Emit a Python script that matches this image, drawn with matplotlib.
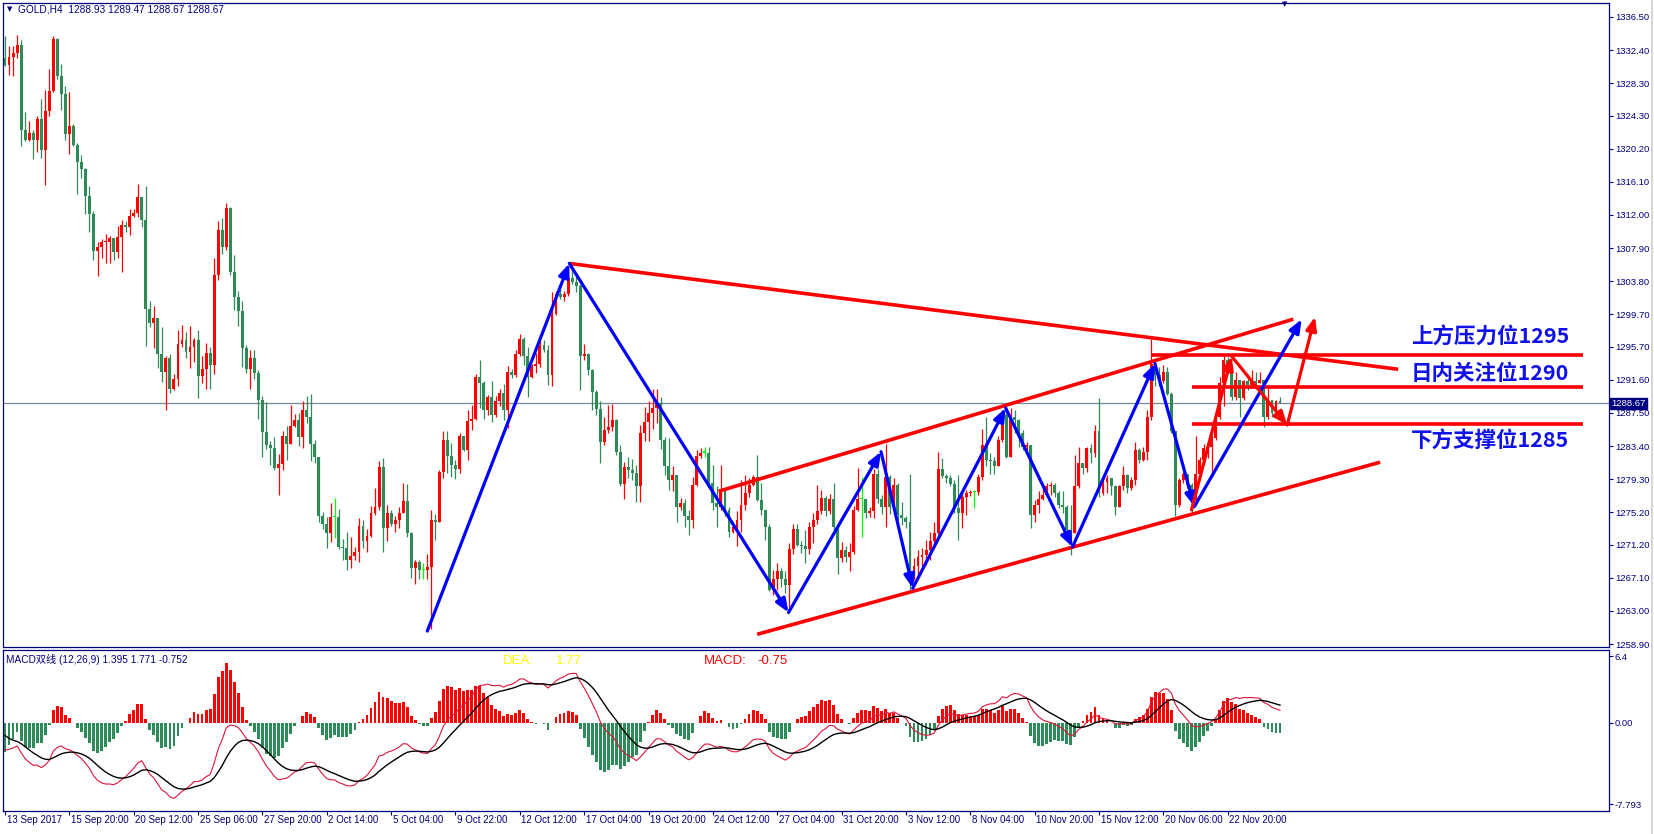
import numpy as np
import matplotlib
matplotlib.use("Agg")
import matplotlib.pyplot as plt
import matplotlib.transforms as mtransforms
from matplotlib.lines import Line2D

plt.rcParams['font.family'] = ['Liberation Sans', 'Noto Sans CJK SC', 'DejaVu Sans']

# ---- GOLD H4 candles (close / high / low), open = previous close ----
OPEN0 = 1331.4
closes = [
    1330.6, 1331.5, 1332.0, 1333.0, 1322.5, 1321.3, 1322.1, 1321.3, 1323.9, 1320.0,
    1324.9, 1327.3, 1333.8, 1329.2, 1327.0, 1322.0, 1323.0, 1320.7, 1318.6, 1317.7,
    1314.3, 1312.1, 1307.5, 1308.0, 1308.6, 1308.7, 1309.1, 1307.4, 1309.3, 1310.8,
    1310.5, 1311.9, 1312.3, 1314.2, 1311.4, 1300.3, 1298.6, 1299.2, 1294.8, 1292.6,
    1294.3, 1290.4, 1291.7, 1296.0, 1296.5, 1295.0, 1295.7, 1296.5, 1292.1, 1292.9,
    1294.9, 1293.4, 1304.6, 1310.1, 1308.0, 1312.9, 1304.9, 1301.8, 1300.1, 1295.5,
    1292.9, 1294.3, 1292.5, 1289.1, 1285.1, 1283.5, 1283.2, 1280.7, 1281.2, 1284.6,
    1283.7, 1285.9, 1286.6, 1284.5, 1287.8, 1287.0, 1283.7, 1282.0, 1274.7, 1273.7,
    1272.6, 1274.6,
    1274.6, 1270.9, 1270.8, 1269.3, 1269.8, 1270.3, 1273.5, 1271.7, 1272.3, 1275.1,
    1275.9, 1280.8, 1273.3, 1275.1, 1273.8, 1274.2, 1275.1, 1276.6, 1272.6, 1268.3,
    1269.0, 1268.1, 1268.1, 1268.4, 1274.2, 1274.0, 1280.2, 1284.1, 1282.2, 1281.1,
    1280.6, 1284.6, 1282.9, 1286.5, 1286.7, 1292.0, 1291.2, 1287.9, 1289.5, 1287.2,
    1289.0, 1290.0, 1287.9, 1292.6, 1292.2, 1294.8, 1296.7, 1294.6, 1291.9, 1293.3,
    1293.6, 1295.9, 1295.3, 1292.2, 1299.8, 1302.2, 1301.9, 1302.2, 1304.2, 1303.7,
    1303.2, 1294.5, 1294.8, 1292.8, 1290.1, 1288.0, 1283.9, 1285.4, 1285.8, 1286.6,
    1282.7, 1278.7, 1280.8, 1280.4, 1280.1, 1278.4, 1285.0, 1286.4, 1287.5, 1288.1,
    1288.7, 1284.2, 1280.9,
    1279.2, 1279.8, 1275.9, 1276.4, 1274.7, 1274.2, 1278.6, 1282.2, 1282.6, 1282.6,
    1278.8, 1276.3, 1275.9, 1277.8, 1275.5, 1272.8, 1273.4, 1274.2, 1276.1, 1277.6,
    1278.6, 1279.6, 1276.7, 1275.5, 1273.4, 1265.6, 1266.9, 1267.9, 1267.0, 1266.2,
    1270.7, 1273.1, 1271.2, 1271.0, 1270.7, 1273.4, 1274.3, 1275.3, 1277.0, 1275.3,
    1276.9, 1273.4, 1269.5, 1270.5, 1269.7, 1270.3, 1275.5, 1276.8, 1276.8, 1275.1,
    1275.3, 1280.0, 1276.9, 1275.9, 1279.6, 1275.9, 1278.6, 1274.9, 1274.5, 1274.0,
    1267.4, 1268.5, 1269.7, 1269.9, 1270.5, 1271.6, 1272.7, 1280.6, 1279.7, 1279.4,
    1278.7, 1275.7, 1275.1, 1277.1, 1277.6, 1277.7, 1277.7, 1279.6, 1283.5, 1281.7,
    1281.5,
    1280.9, 1284.2, 1287.3, 1282.1, 1287.0, 1286.6, 1285.0, 1283.3, 1283.5, 1274.9,
    1276.1, 1276.9, 1277.3, 1278.4, 1278.6, 1277.6, 1276.1, 1275.9, 1273.0, 1272.6,
    1278.4, 1281.3, 1280.7, 1283.1, 1282.5, 1285.2, 1277.6, 1279.0, 1279.4, 1278.4,
    1275.9, 1278.4, 1279.8, 1278.2, 1279.2, 1282.9, 1281.7, 1282.7, 1287.0, 1293.6,
    1292.2, 1291.4, 1292.6, 1289.9, 1285.2, 1276.1, 1279.2, 1280.0, 1278.6, 1276.7,
    1280.0, 1281.7, 1283.1, 1283.3, 1284.4, 1287.0, 1291.2, 1294.1, 1293.2, 1289.5,
    1291.6, 1289.3, 1291.4, 1291.0, 1291.4, 1291.2, 1291.6, 1287.0, 1289.1, 1287.5,
    1288.93, 1288.67,
]
highs = [
    1334.2, 1332.9, 1332.9, 1334.3, 1333.6, 1324.7, 1323.6, 1322.5, 1324.3, 1326.3,
    1327.5, 1330.1, 1334.2, 1333.9, 1330.7, 1328.0, 1327.2, 1323.2, 1320.9, 1319.4,
    1317.8, 1315.6, 1312.5, 1308.6, 1309.0, 1309.6, 1309.4, 1309.2, 1310.6, 1311.4,
    1311.2, 1312.7, 1312.7, 1315.8, 1314.2, 1315.6, 1301.4, 1300.7, 1299.2, 1298.1,
    1294.6, 1294.8, 1292.3, 1297.8, 1298.4, 1297.5, 1298.2, 1296.8, 1297.8, 1294.5,
    1296.2, 1295.7, 1306.7, 1311.2, 1311.6, 1313.5, 1313.0, 1307.0, 1302.6, 1301.4,
    1295.9, 1295.3, 1295.3, 1292.8, 1289.6, 1288.9, 1284.0, 1284.5, 1282.4, 1285.3,
    1285.9, 1288.5, 1287.4, 1287.5, 1289.0, 1289.6, 1289.9, 1284.2, 1282.0, 1275.2,
    1274.6, 1276.4,
    1277.0, 1275.6, 1271.9, 1272.8, 1272.2, 1270.9, 1274.5, 1274.2, 1273.1, 1276.0,
    1278.2, 1281.5, 1281.9, 1276.1, 1275.5, 1274.8, 1275.9, 1278.8, 1278.7, 1272.8,
    1269.3, 1269.3, 1268.9, 1270.1, 1275.5, 1275.0, 1280.4, 1285.2, 1285.2, 1283.8,
    1281.7, 1285.0, 1284.7, 1287.9, 1288.5, 1292.3, 1294.0, 1291.5, 1289.7, 1291.5,
    1289.6, 1290.4, 1291.1, 1293.3, 1292.9, 1295.3, 1297.3, 1296.9, 1295.7, 1293.6,
    1294.9, 1296.5, 1296.5, 1295.9, 1302.5, 1302.6, 1303.5, 1302.6, 1305.0, 1306.2,
    1304.5, 1303.5, 1296.0, 1294.9, 1292.9, 1290.3, 1289.0, 1287.0, 1288.5, 1288.6,
    1286.8, 1283.5, 1281.4, 1282.0, 1281.8, 1281.0, 1286.0, 1288.2, 1289.0, 1290.5,
    1290.5, 1289.5, 1284.5,
    1284.4, 1280.9, 1278.6, 1277.0, 1276.9, 1275.5, 1279.6, 1282.9, 1283.1, 1283.3,
    1283.3, 1281.1, 1278.4, 1281.1, 1278.0, 1275.9, 1274.0, 1275.3, 1279.2, 1279.8,
    1279.4, 1279.8, 1282.3, 1278.8, 1275.5, 1273.8, 1268.0, 1268.9, 1268.3, 1267.9,
    1271.4, 1273.8, 1273.8, 1271.6, 1273.0, 1274.0, 1275.1, 1278.6, 1278.0, 1277.2,
    1277.5, 1278.8, 1273.8, 1271.5, 1271.0, 1271.4, 1276.0, 1280.7, 1279.6, 1276.8,
    1275.8, 1280.5, 1280.5, 1277.3, 1283.7, 1279.8, 1279.4, 1278.8, 1276.5, 1274.7,
    1280.0, 1269.5, 1270.5, 1270.8, 1271.8, 1272.8, 1274.0, 1282.7, 1281.9, 1280.0,
    1279.8, 1279.2, 1279.8, 1277.8, 1278.0, 1278.0, 1278.0, 1280.0, 1285.5, 1287.0,
    1282.5,
    1282.1, 1284.6, 1287.9, 1287.5, 1288.1, 1287.9, 1286.8, 1285.4, 1283.9, 1283.5,
    1276.7, 1277.8, 1278.4, 1278.8, 1278.9, 1278.8, 1277.8, 1277.8, 1276.1, 1276.1,
    1282.3, 1283.3, 1281.3, 1283.3, 1283.7, 1286.0, 1289.3, 1279.4, 1279.8, 1279.2,
    1278.6, 1278.6, 1280.9, 1280.0, 1279.6, 1283.9, 1283.1, 1283.3, 1287.9, 1296.7,
    1294.1, 1293.2, 1293.4, 1293.2, 1290.1, 1285.2, 1279.4, 1280.2, 1280.0, 1278.8,
    1284.6, 1282.1, 1283.7, 1283.9, 1285.2, 1287.9, 1292.0, 1294.5, 1294.4, 1293.2,
    1292.6, 1291.6, 1291.6, 1292.0, 1292.8, 1292.6, 1292.6, 1291.4, 1290.8, 1289.1,
    1289.1, 1289.47,
]
lows = [
    1330.4, 1329.3, 1329.2, 1331.4, 1320.5, 1321.1, 1321.2, 1318.9, 1319.8, 1319.0,
    1315.7, 1324.3, 1327.2, 1328.8, 1325.0, 1321.3, 1319.6, 1320.5, 1314.6, 1316.6,
    1312.1, 1309.9, 1306.4, 1304.4, 1306.7, 1306.0, 1306.0, 1306.4, 1306.7, 1304.9,
    1309.9, 1309.5, 1311.8, 1311.8, 1310.5, 1295.8, 1298.1, 1295.5, 1293.0, 1291.3,
    1287.9, 1290.0, 1290.3, 1290.8, 1295.6, 1294.3, 1293.1, 1293.8, 1289.4, 1291.2,
    1290.5, 1290.4, 1292.3, 1304.0, 1307.2, 1307.6, 1304.6, 1300.2, 1298.2, 1293.2,
    1292.4, 1290.5, 1291.7, 1286.8, 1282.1, 1283.0, 1281.1, 1280.4, 1277.4, 1280.4,
    1281.7, 1283.6, 1285.8, 1283.4, 1283.2, 1286.3, 1281.5, 1281.3, 1274.0, 1273.1,
    1270.8, 1271.5,
    1272.0, 1270.7, 1269.3, 1268.1, 1268.3, 1269.3, 1269.0, 1270.8, 1270.3, 1272.2,
    1274.9, 1275.5, 1270.3, 1271.6, 1273.5, 1272.8, 1273.2, 1275.1, 1272.2, 1267.1,
    1266.3, 1267.0, 1266.9, 1267.0, 1260.8, 1271.8, 1274.0, 1279.4, 1280.1, 1279.6,
    1279.3, 1280.1, 1282.8, 1281.7, 1285.4, 1286.6, 1288.1, 1286.8, 1287.2, 1286.4,
    1287.0, 1288.3, 1286.6, 1285.6, 1291.8, 1292.0, 1294.5, 1293.4, 1289.5, 1291.8,
    1292.4, 1293.2, 1295.1, 1291.0, 1290.8, 1299.6, 1301.6, 1301.4, 1302.0, 1303.5,
    1302.5, 1290.3, 1294.0, 1292.2, 1287.9, 1287.2, 1281.3, 1283.5, 1285.0, 1285.3,
    1282.3, 1278.4, 1276.8, 1279.5, 1279.2, 1276.5, 1276.5, 1284.0, 1284.0, 1285.5,
    1286.3, 1283.0, 1279.8,
    1278.0, 1277.8, 1274.0, 1275.5, 1273.4, 1272.4, 1273.2, 1278.4, 1281.9, 1282.1,
    1278.4, 1275.5, 1273.4, 1275.5, 1274.7, 1272.2, 1272.6, 1271.0, 1272.8, 1275.5,
    1277.1, 1278.4, 1276.6, 1274.9, 1271.8, 1265.4, 1265.0, 1265.6, 1266.0, 1265.2,
    1263.5, 1270.0, 1271.0, 1270.2, 1268.9, 1270.0, 1271.4, 1273.8, 1275.0, 1274.8,
    1275.0, 1273.0, 1267.6, 1269.0, 1269.0, 1267.9, 1270.0, 1275.3, 1272.2, 1274.5,
    1274.6, 1274.5, 1276.3, 1275.0, 1273.4, 1275.0, 1275.5, 1274.3, 1273.6, 1273.3,
    1265.4, 1266.8, 1267.2, 1268.5, 1268.7, 1269.3, 1271.0, 1272.4, 1279.4, 1278.8,
    1278.4, 1275.1, 1271.8, 1273.2, 1274.9, 1277.2, 1275.7, 1277.3, 1279.2, 1280.9,
    1280.0,
    1280.0, 1280.9, 1283.9, 1281.9, 1282.0, 1285.0, 1283.3, 1282.9, 1282.9, 1273.2,
    1274.0, 1275.1, 1276.7, 1277.1, 1277.3, 1277.1, 1275.7, 1275.1, 1272.6, 1269.9,
    1272.6, 1278.2, 1280.0, 1280.2, 1281.3, 1282.1, 1277.1, 1277.3, 1277.6, 1277.4,
    1274.9, 1276.1, 1278.0, 1277.6, 1278.0, 1278.6, 1281.3, 1281.5, 1281.7, 1286.6,
    1290.8, 1290.8, 1291.2, 1289.7, 1285.0, 1274.7, 1275.9, 1278.8, 1278.2, 1275.0,
    1276.1, 1279.6, 1281.1, 1281.9, 1279.6, 1284.2, 1286.8, 1288.3, 1292.6, 1289.1,
    1289.1, 1287.0, 1289.1, 1290.3, 1290.8, 1290.5, 1291.2, 1285.8, 1286.8, 1287.0,
    1287.7, 1288.67,
]

# time axis labels, one every 16 bars
time_labels = ["13 Sep 2017", "15 Sep 20:00", "20 Sep 12:00", "25 Sep 06:00", "27 Sep 20:00",
               "2 Oct 14:00", "5 Oct 04:00", "9 Oct 22:00", "12 Oct 12:00", "17 Oct 04:00",
               "19 Oct 20:00", "24 Oct 12:00", "27 Oct 04:00", "31 Oct 20:00", "3 Nov 12:00",
               "8 Nov 04:00", "10 Nov 20:00", "15 Nov 12:00", "20 Nov 06:00", "22 Nov 20:00"]
price_ticks = [1336.50, 1332.40, 1328.30, 1324.30, 1320.20, 1316.10, 1312.00, 1307.90, 1303.80,
               1299.70, 1295.70, 1291.60, 1287.50, 1283.40, 1279.30, 1275.20, 1271.20, 1267.10,
               1263.00, 1258.90]
last_price = 1288.67

# MACD seed (value of the emas at the first bar)
EMA12_START, EMA26_START, DEA_START = 1333.0, 1335.6, -1.2

# drawn objects (bar index, price)
blue_x = [105.0, 140.3, 194.8, 217.8, 225.7, 248.8, 265.4, 285.9, 295.7, 322.4]
blue_y = [1260.5, 1306.0, 1262.8, 1282.7, 1265.8, 1288.1, 1270.9, 1293.6, 1275.9, 1299.1]
red_arrow_x = [295.0, 305.0, 318.8, 325.7]
red_arrow_y = [1275.5, 1294.5, 1286.0, 1299.4]
down_line = [(140.3, 1306.0), (346.4, 1292.9)]
chan_top = [(177.4, 1277.8), (320.3, 1299.1)]
chan_bot = [(187.0, 1260.1), (341.9, 1281.4)]
levels = [1294.7, 1290.7, 1286.1]
level_start = [285.1, 295.0, 295.0]
level_end = 392.4
level_texts = ["上方压力位1295", "日内关注位1290", "下方支撑位1285"]
level_text_y = [1296.9, 1292.4, 1284.0]

NAVY = '#000080'
UP = '#ff0000'
DOWN = '#2e8b57'
DOJI = '#00ff00'

W, H = 1654, 834
fig = plt.figure(figsize=(W / 100, H / 100), dpi=100)
fig.patch.set_facecolor('white')


def fx(px):
    return px / W


def fy(py):
    return 1 - py / H


ax = fig.add_axes([fx(3), fy(647), fx(1609) - fx(3), fy(3) - fy(647)])
am = fig.add_axes([fx(3), fy(811), fx(1609) - fx(3), fy(650) - fy(811)])

n = len(closes)
x = np.arange(n)
c = np.array(closes)
o = np.array([OPEN0] + closes[:-1])
hi = np.maximum(np.array(highs), np.maximum(o, c))
lo = np.minimum(np.array(lows), np.minimum(o, c))
cols = np.where(c > o, UP, np.where(c < o, DOWN, DOJI))

# candles
ax.vlines(x, lo, hi, colors=cols, lw=0.9, zorder=2)
body = np.maximum(np.abs(c - o), 0.13)
ax.bar(x, body, bottom=np.minimum(o, c), width=0.72, color=cols, linewidth=0, zorder=3)

ax.axhline(last_price, color='#778899', lw=0.9, zorder=1)

# trend lines and levels
for (x0, y0), (x1, y1) in [down_line, chan_top, chan_bot]:
    ax.plot([x0, x1], [y0, y1], color='#ff0000', lw=2.6, solid_capstyle='butt', zorder=5)
for lv, xs in zip(levels, level_start):
    ax.plot([xs, level_end], [lv, lv], color='#ff0000', lw=2.6, solid_capstyle='butt', zorder=5)

arrow_style = '-|>,head_length=0.8,head_width=0.32'
for i in range(len(blue_x) - 1):
    ax.annotate('', xy=(blue_x[i + 1], blue_y[i + 1]), xytext=(blue_x[i], blue_y[i]),
                arrowprops=dict(arrowstyle=arrow_style, color='#0000ff', lw=2.3,
                                shrinkA=0, shrinkB=0), zorder=6)
for i in range(len(red_arrow_x) - 1):
    ax.annotate('', xy=(red_arrow_x[i + 1], red_arrow_y[i + 1]), xytext=(red_arrow_x[i], red_arrow_y[i]),
                arrowprops=dict(arrowstyle=arrow_style, color='#ff0000', lw=2.3,
                                shrinkA=0, shrinkB=0), zorder=6)

for t, ty in zip(level_texts, level_text_y):
    ax.text(388.9, ty, t, ha='right', va='center', fontsize=15.5, color='#1010e8',
            fontweight='bold', family=['Noto Sans CJK SC', 'DejaVu Sans'], zorder=7)

ax.set_xlim(-0.5, 398.8)
ax.set_ylim(1258.53, 1338.23)

# MACD (DIF, DEA, 2*(DIF-DEA))
e12, e26, dea = EMA12_START, EMA26_START, DEA_START
dif_l, dea_l = [], []
for i, cl in enumerate(closes):
    if i > 0:
        e12 = e12 + (cl - e12) * 2 / 13
        e26 = e26 + (cl - e26) * 2 / 27
    d = e12 - e26
    if i > 0:
        dea = dea + (d - dea) * 2 / 10
    dif_l.append(d)
    dea_l.append(dea)
dif_a = np.array(dif_l)
dea_a = np.array(dea_l)
hist = 2 * (dif_a - dea_a)
am.bar(x, hist, width=0.7, color=np.where(hist >= 0, UP, DOWN), linewidth=0, zorder=2)
am.plot(x, dif_a, color='#dc143c', lw=0.8, zorder=3)
am.plot(x, dea_a, color='black', lw=1.0, zorder=4)
am.set_xlim(-0.5, 398.8)
am.set_ylim(-8.44, 7.0)

am.text(0.002, 0.94, "MACD双线 (12,26,9) 1.395 1.771 -0.752", transform=am.transAxes,
        ha='left', va='center', fontsize=7.3, color=NAVY)
btf = mtransforms.blended_transform_factory(am.transData, am.transAxes)
am.text(123.8, 0.93, "DEA:", transform=btf, fontsize=9.5, color='#ffff00', va='center')
am.text(137.0, 0.93, "1.77", transform=btf, fontsize=9.5, color='#ffff00', va='center')
am.text(173.7, 0.93, "MACD:", transform=btf, fontsize=9.5, color='#ff0000', va='center')
am.text(187.0, 0.93, "-0.75", transform=btf, fontsize=9.5, color='#ff0000', va='center')

# axes styling
for a in (ax, am):
    for s in a.spines.values():
        s.set_color(NAVY)
        s.set_linewidth(0.9)
    a.yaxis.tick_right()
    a.tick_params(axis='y', direction='out', length=3, width=0.8, color=NAVY,
                  labelcolor=NAVY, labelsize=6.8, pad=1.2)
ax.set_yticks(price_ticks)
ax.set_yticklabels([f"{v:.2f}" for v in price_ticks])
ax.set_xticks([])
am.set_yticks([6.4, 0.0, -7.793])
am.set_yticklabels(["6.4", "0.00", "-7.793"])

tick_idx = [16 * k for k in range(len(time_labels))]
am.set_xticks(tick_idx)
am.set_xticklabels([])
am.tick_params(axis='x', direction='out', length=3, width=0.8, color=NAVY)
xtf = mtransforms.blended_transform_factory(am.transData, am.transAxes)
for ti, lab in zip(tick_idx, time_labels):
    am.text(ti + 0.4, -0.058, lab, transform=xtf, ha='left', va='center',
            fontsize=7.0, color=NAVY, clip_on=False)

# current price box on the price scale
ptf = mtransforms.blended_transform_factory(ax.transAxes, ax.transData)
ax.text(1.0012, last_price, f"{last_price:.2f}", transform=ptf, ha='left', va='center',
        fontsize=6.8, color='white', clip_on=False, zorder=10,
        bbox=dict(boxstyle='square,pad=0.15', fc=NAVY, ec=NAVY))

# header
fig.text(fx(7), fy(9), "▼", fontsize=5, color=NAVY, va='center', family='DejaVu Sans')
fig.text(fx(18), fy(9), "GOLD,H4  1288.93 1289.47 1288.67 1288.67", fontsize=7.3,
         color=NAVY, va='center')
fig.text(fx(1282), fy(4), "▼", fontsize=5, color=NAVY, va='center', family='DejaVu Sans')

fig.add_artist(Line2D([fx(1652), fx(1652)], [0, 1], color='#d0d0d0', lw=1.2))

fig.savefig("out.png", dpi=100, facecolor='white')
